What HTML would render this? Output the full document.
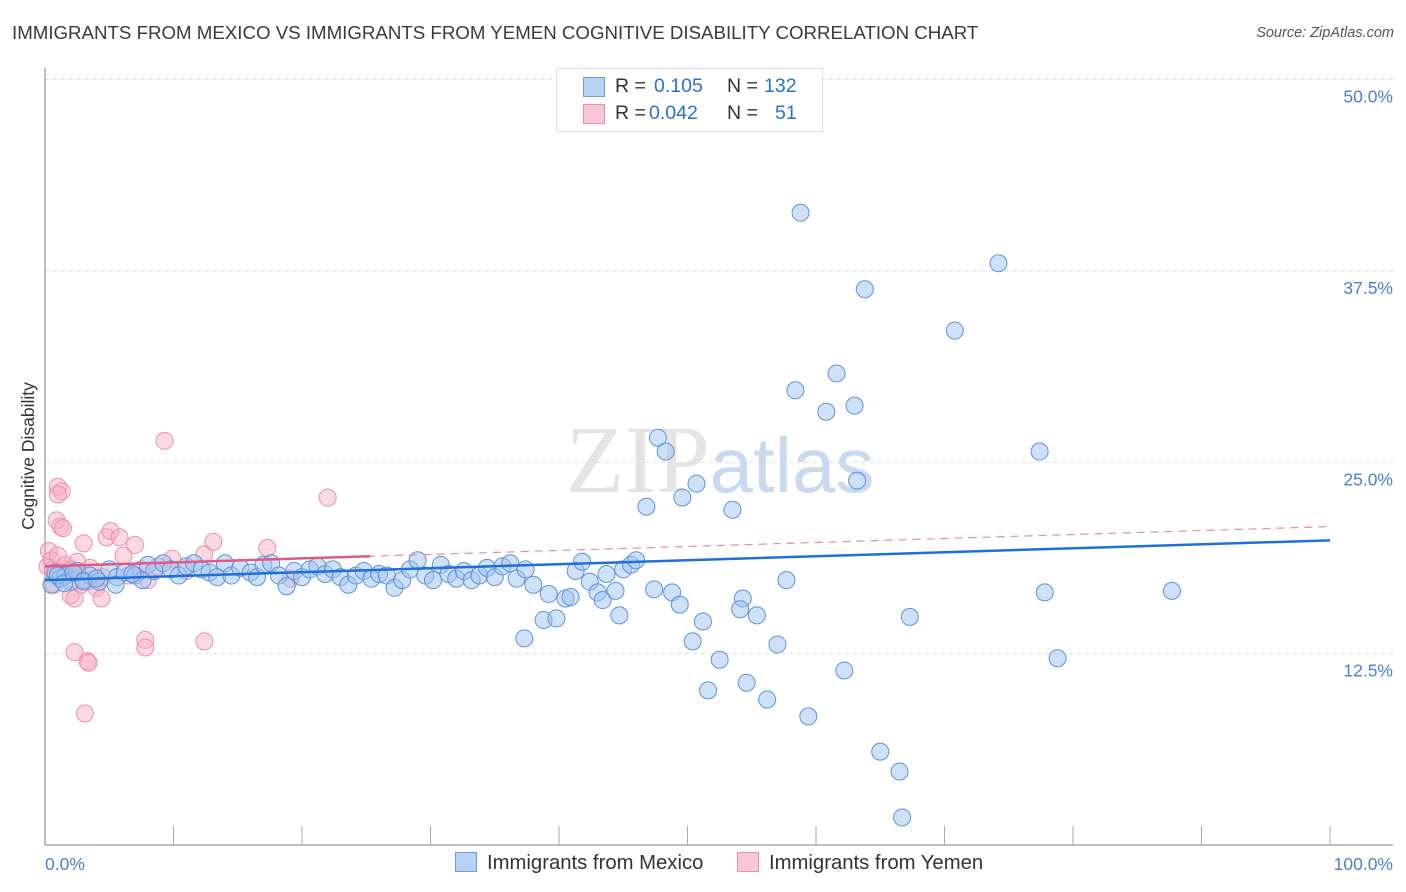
<!DOCTYPE html>
<html><head><meta charset="utf-8">
<style>
body{margin:0;background:#fff;font-family:"Liberation Sans",sans-serif;}
#wrap{position:relative;width:1406px;height:892px;overflow:hidden;}
.t{position:absolute;white-space:nowrap;}
</style></head><body>
<div id="wrap">
<div class="t" style="left:12px;top:22px;font-size:18.7px;color:#3a3a3a;">IMMIGRANTS FROM MEXICO VS IMMIGRANTS FROM YEMEN COGNITIVE DISABILITY CORRELATION CHART</div>
<div class="t" style="right:12px;top:25px;font-size:14.5px;color:#555;font-style:italic;">Source: ZipAtlas.com</div>
<svg id="chart" width="1406" height="892" style="position:absolute;left:0;top:0;"></svg>
</div>
<script>
const blueX=[0.5,0.8,1.2,1.6,2.0,2.5,3.0,3.5,4.2,5.0,5.6,6.2,7.0,7.6,8.0,8.5,9.2,9.8,10.4,11.0,11.6,12.2,12.8,13.4,14.0,14.5,15.2,16.0,16.5,17.0,17.6,18.2,18.8,19.4,20.0,20.6,21.2,21.8,22.4,23.0,23.6,24.2,24.8,25.4,26.0,26.6,27.2,27.8,28.4,29.0,29.6,30.2,30.8,31.4,32.0,32.6,33.2,33.8,34.4,35.0,35.6,36.2,36.7,37.4,38.0,39.2,40.5,40.9,41.3,41.8,42.4,43.0,43.4,43.7,44.4,45.0,45.6,46.0,38.8,39.8,37.3,44.7,
58.8,74.2,63.8,70.8,61.6,58.4,63.0,60.8,47.7,48.3,77.4,63.2,50.7,49.6,46.8,53.5,57.7,77.8,87.7,47.4,48.8,49.4,54.3,54.1,55.4,51.2,67.3,50.4,57.0,52.5,78.8,62.2,54.6,51.6,56.2,59.4,65.0,66.5,66.7,1.0,1.5,2.2,3.0,4.0,5.5,6.8];
const blueY=[17.0,17.8,17.4,17.6,17.2,17.9,17.3,17.6,17.2,18.0,17.5,17.8,17.6,17.3,18.3,17.9,18.4,18.0,17.6,18.2,18.4,18.0,17.8,17.5,18.4,17.6,18.1,17.8,17.5,18.3,18.4,17.6,16.9,17.9,17.5,18.0,18.2,17.7,18.0,17.5,17.0,17.6,17.9,17.4,17.7,17.6,16.8,17.3,18.0,18.6,17.6,17.3,18.3,17.7,17.4,17.9,17.3,17.6,18.1,17.5,18.2,18.4,17.4,18.0,17.0,16.4,16.1,16.2,17.9,18.5,17.2,16.5,16.0,17.7,16.6,18.0,18.3,18.6,14.7,14.8,13.5,15.0,
41.3,38.0,36.3,33.6,30.8,29.7,28.7,28.3,26.6,25.7,25.7,23.8,23.6,22.7,22.1,21.9,17.3,16.5,16.6,16.7,16.5,15.7,16.1,15.4,15.0,14.6,14.9,13.3,13.1,12.1,12.2,11.4,10.6,10.1,9.5,8.4,6.1,4.8,1.8,17.6,17.1,17.8,17.2,17.4,17.0,17.7];
const pinkX=[0.2,0.3,0.5,0.6,0.8,1.0,1.0,1.3,1.0,0.9,1.2,1.4,1.6,1.8,2.0,2.3,2.5,3.0,3.3,2.8,3.5,4.0,4.4,4.8,5.1,5.8,6.1,7.0,7.5,8.0,8.8,9.3,9.9,12.4,13.1,17.3,19.1,22.0,7.8,7.8,12.4,2.3,3.3,3.4,3.1,1.5,0.7,2.0,4.5,6.5,11.0];
const pinkY=[18.2,19.2,18.6,18.0,17.6,18.9,23.4,23.1,22.9,21.2,20.8,20.7,18.3,17.9,16.3,16.1,18.5,19.7,17.2,17.0,18.1,16.8,16.1,20.1,20.5,20.1,18.9,19.6,18.0,17.3,18.2,26.4,18.7,19.0,19.8,19.4,17.4,22.7,13.4,12.9,13.3,12.6,12.0,11.9,8.6,17.5,17.0,18.0,17.5,17.6,17.9];
const blueTrend=[17.3,19.9];
const pinkTrend=[18.2,20.8];
const pinkSolidEnd=25.3;
const yTicks=[12.5,25.0,37.5,50.0];
const xTickLabels=["0.0%","100.0%"];

const NS="http://www.w3.org/2000/svg";
const svg=document.getElementById('chart');
const X0=45,X1=1330,Y0=845,PERY=15.31;
const sx=v=>X0+(X1-X0)*v/100;
const sy=v=>Y0-v*PERY;
function mk(tag,attrs){const e=document.createElementNS(NS,tag);for(const k in attrs)e.setAttribute(k,attrs[k]);svg.appendChild(e);return e;}
yTicks.forEach(v=>{
 const g=mk('line',{x1:X0,x2:1393,y1:sy(v),y2:sy(v),stroke:'#ddd','stroke-dasharray':'4,4'});
 
 
 const t=mk('text',{x:1393,y:sy(v)+23,'text-anchor':'end','font-size':'17.5',fill:'#4a7fd6','font-family':'Liberation Sans'});
 t.textContent=v.toFixed(1)+'%';
 
 
});
const ya=mk('line',{x1:X0,x2:X0,y1:68,y2:Y0,stroke:'#aaa','stroke-width':1.5});


const xa=mk('line',{x1:X0,x2:1393,y1:Y0,y2:Y0,stroke:'#aaa','stroke-width':1.5});


for(let i=0;i<=10;i++){const tk=mk('line',{x1:sx(i*10),x2:sx(i*10),y1:826,y2:Y0,stroke:'#aaa','stroke-width':1});
 
 }
const wm=mk('text',{x:720,y:492,'text-anchor':'middle','font-size':'96','font-family':'Liberation Serif',fill:'#e4e4e4'});
wm.innerHTML='ZIP<tspan fill="#c9d9ef" font-family="Liberation Sans" font-size="78">atlas</tspan>';


pinkX.forEach((x,i)=>{const c=mk('circle',{cx:sx(x),cy:sy(pinkY[i]),r:8.5,fill:'rgba(246,170,195,0.45)',stroke:'#ee8fad','stroke-width':1});
 
 });
blueX.forEach((x,i)=>{const c=mk('circle',{cx:sx(x),cy:sy(blueY[i]),r:8.5,fill:'rgba(160,195,240,0.5)',stroke:'#5b93e0','stroke-width':1});
 
 });
const pd=mk('line',{x1:sx(0),y1:sy(pinkTrend[0]),x2:sx(100),y2:sy(pinkTrend[1]),stroke:'#e98aa8','stroke-width':1.2,'stroke-dasharray':'8,6'});


const pe=pinkTrend[0]+(pinkTrend[1]-pinkTrend[0])*pinkSolidEnd/100;
const ps=mk('line',{x1:sx(0),y1:sy(pinkTrend[0]),x2:sx(pinkSolidEnd),y2:sy(pe),stroke:'#e05a85','stroke-width':2.5});


const bl=mk('line',{x1:sx(0),y1:sy(blueTrend[0]),x2:sx(100),y2:sy(blueTrend[1]),stroke:'#1f6fd8','stroke-width':2.5});


const yt=mk('text',{x:34,y:456,transform:'rotate(-90 34 456)','text-anchor':'middle','font-size':'17.5',fill:'#333','font-family':'Liberation Sans'});
yt.textContent='Cognitive Disability';


const xl0=mk('text',{x:45,y:870,'font-size':'17.5',fill:'#4a7fd6','font-family':'Liberation Sans'});
xl0.textContent=xTickLabels[0];


const xl1=mk('text',{x:1393,y:870,'text-anchor':'end','font-size':'17.5',fill:'#4a7fd6','font-family':'Liberation Sans'});
xl1.textContent=xTickLabels[1];


</script>
<div style="position:absolute;left:556px;top:68px;width:265px;height:62px;border:1px solid #ddd;background:#fff;font-size:19.5px;">
 <div style="position:absolute;left:26px;top:6px;">
  <span style="position:absolute;left:0;top:2px;width:20px;height:18px;background:#b8d2f6;border:1px solid #6a9be0;"></span>
  <span class="t" style="left:32px;top:0;color:#333;">R =</span>
  <span class="t" style="left:71px;top:0;color:#2a6fd6;">0.105</span>
  <span class="t" style="left:144px;top:0;color:#333;">N =</span>
  <span class="t" style="left:181px;top:0;color:#2a6fd6;">132</span>
 </div>
 <div style="position:absolute;left:26px;top:33px;">
  <span style="position:absolute;left:0;top:2px;width:20px;height:18px;background:#f9c6d6;border:1px solid #ee8fad;"></span>
  <span class="t" style="left:32px;top:0;color:#333;">R =</span>
  <span class="t" style="left:66px;top:0;color:#2a6fd6;">0.042</span>
  <span class="t" style="left:144px;top:0;color:#333;">N =</span>
  <span class="t" style="left:192px;top:0;color:#2a6fd6;">51</span>
 </div>
</div>
<div style="position:absolute;left:455px;top:852px;font-size:20.3px;color:#333;">
 <span style="position:absolute;left:0;top:0;white-space:nowrap;"><span style="display:inline-block;width:20px;height:18px;background:#b8d2f6;border:1px solid #6a9be0;vertical-align:-3px;margin-right:10px;"></span>Immigrants from Mexico</span>
 <span style="position:absolute;left:282px;top:0;white-space:nowrap;"><span style="display:inline-block;width:20px;height:18px;background:#f9c6d6;border:1px solid #ee8fad;vertical-align:-3px;margin-right:10px;"></span>Immigrants from Yemen</span>
</div>
</body></html>
